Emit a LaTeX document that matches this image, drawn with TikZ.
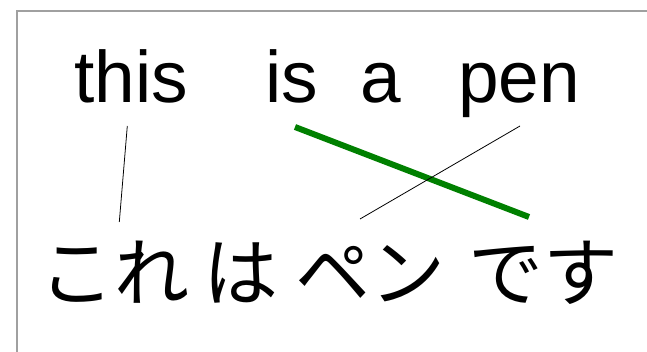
\documentclass[tikz,border=0pt]{standalone}
\usepackage{fontspec}
\setmainfont{Liberation Sans}
\newfontfamily\jpfont{Noto Sans CJK JP}
\definecolor{framegray}{HTML}{A0A0A0}
\definecolor{linkgreen}{HTML}{008000}
\begin{document}
\begin{tikzpicture}[x=1pt,y=-1pt,
  enword/.style={anchor=base west,inner sep=0pt,font=\fontsize{73}{86}\selectfont},
  jpword/.style={anchor=base west,inner sep=0pt,font=\jpfont\fontsize{75}{86}\selectfont},
  thinlink/.style={draw=black,line width=0.8pt},
  thicklink/.style={draw=linkgreen,line width=6pt}]
\useasboundingbox (0,0) rectangle (647,352);
\draw[framegray,line width=1.4pt] (17,352) -- (17,11) -- (647,11);
% English words
\node[enword] (this) at (74,103) {this};
\node[enword] (is) at (265,103) {is};
\node[enword] (a) at (360,103) {a};
\node[enword] (pen) at (458,103) {pen};
% Japanese words
\node[jpword] (kore) at (39,300) {これ};
\node[jpword] (wa) at (203,300) {は};
\node[jpword] (pene) at (295,300) {ペン};
\node[jpword] (desu) at (468,300) {です};
% link end points
\coordinate (thisB) at (127.3,126);
\coordinate (koreT) at (119.3,222);
\coordinate (isB) at (295,127);
\coordinate (desuT) at (529,217);
\coordinate (penB) at (520,126);
\coordinate (peneT) at (360,219);
\draw[thinlink] (thisB) -- (koreT);
\draw[thicklink] (isB) -- (desuT);
\draw[thinlink] (penB) -- (peneT);
\end{tikzpicture}
\end{document}
